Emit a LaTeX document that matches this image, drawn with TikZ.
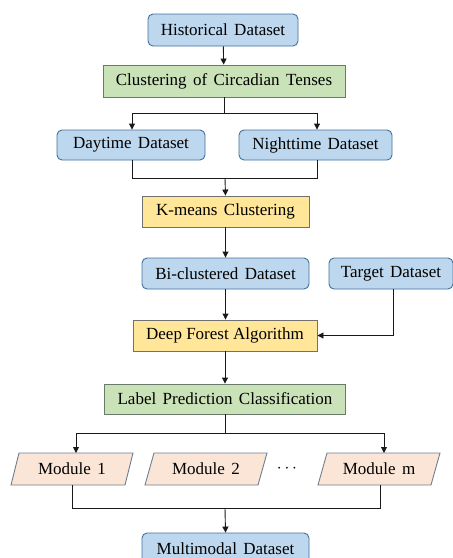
\documentclass[tikz,border=0pt]{standalone}
\usepackage{fontspec}
\setmainfont[WordSpace=1.5]{Liberation Serif}
\usetikzlibrary{arrows.meta,calc}
\definecolor{bluefill}{HTML}{BDD7EE}
\definecolor{blueline}{HTML}{41719C}
\definecolor{greenfill}{HTML}{C9E2B8}
\definecolor{greenline}{HTML}{6A7A6A}
\definecolor{yellowfill}{HTML}{FFE699}
\definecolor{yellowline}{HTML}{707070}
\definecolor{pinkfill}{HTML}{FBE5D6}
\definecolor{pinkline}{HTML}{6F7F8F}
\tikzset{
  basebox/.style={font=\fontsize{17}{19}\selectfont, inner sep=0pt, minimum height=31, text=black},
  bluebox/.style={basebox, draw=blueline, fill=bluefill, rounded corners=5pt, line width=0.9pt},
  greenbox/.style={basebox, draw=greenline, fill=greenfill, line width=0.9pt},
  yellowbox/.style={basebox, draw=yellowline, fill=yellowfill, line width=0.9pt},
  modshape/.style={draw=pinkline, fill=pinkfill, line width=0.9pt},
  modtext/.style={basebox, minimum height=32},
  conn/.style={draw=black!90, line width=0.9pt},
  arr/.style={conn, -{Triangle[length=6pt,width=6pt]}}
}
\begin{document}
\begin{tikzpicture}[x=1pt,y=-1pt]
\useasboundingbox (0,0) rectangle (453,558);
% nodes
\node[bluebox, minimum width=150, minimum height=32] (hist) at (223,30) {Historical Dataset};
\node[greenbox, minimum width=242, minimum height=32] (clust) at (224,81) {Clustering of Circadian Tenses};
\node[bluebox, minimum width=148, minimum height=30] (day) at (131,145) {Daytime Dataset};
\node[bluebox, minimum width=153, minimum height=30] (night) at (315.5,145) {Nighttime Dataset};
\node[yellowbox, minimum width=167, minimum height=31] (kmeans) at (225.5,211.5) {K-means Clustering};
\node[bluebox, minimum width=167, minimum height=31] (bi) at (225.5,273.5) {Bi-clustered Dataset};
\node[bluebox, minimum width=124, minimum height=31] (target) at (391,273.5) {Target Dataset};
\node[yellowbox, minimum width=184, minimum height=31, font=\fontsize{17}{19}\selectfont\fontspec{Liberation Serif}] (deep) at (225,335.5) {Deep Forest Algorithm};
\node[greenbox, minimum width=241, minimum height=30] (label) at (225,399) {Label Prediction Classification};
% modules
\draw[modshape] (11,485) -- (19,453) -- (133,453) -- (125,485) -- cycle;
\draw[modshape] (145,485) -- (154,453) -- (267,453) -- (258,485) -- cycle;
\draw[modshape] (318,485) -- (327,453) -- (440,453) -- (431,485) -- cycle;
\node[modtext] (m1) at (72,469) {Module 1};
\node[modtext] (m2) at (206,469) {Module 2};
\node[modtext] (mm) at (379,469) {Module m};
\node[font=\fontsize{17}{19}\selectfont] (dots) at (287,469) {$\cdots$};
\node[bluebox, minimum width=167, minimum height=31] (multi) at (225.5,548.5) {Multimodal Dataset};
% coordinates
\coordinate (s1) at (224,113);
\coordinate (j1) at (225,178);
\coordinate (s2) at (225,433);
\coordinate (j2) at (225,508);
\coordinate (m1in) at (76,453);
\coordinate (mmin) at (384,453);
\coordinate (m1out) at (72,485);
\coordinate (mmout) at (380,485);
% connectors
\draw[arr] (hist) -- (clust);
\draw[conn] (clust.south) -- (s1);
\draw[arr] (s1) -| ($(day.north)+(1,0)$);
\draw[arr] (s1) -| ($(night.north)+(1.5,0)$);
\draw[conn] ($(day.south)+(1,0)$) |- (j1);
\draw[conn] ($(night.south)+(1.5,0)$) |- (j1);
\draw[arr] (j1) -- (kmeans.north);
\draw[arr] (kmeans) -- (bi);
\draw[arr] (bi.south) -- (bi.south |- deep.north);
\draw[arr] ($(target.south)+(2,0)$) |- (deep.east);
\draw[arr] (deep) -- (label);
\draw[conn] (label.south) -- (s2);
\draw[arr] (s2) -| (m1in);
\draw[arr] (s2) -| (mmin);
\draw[conn] (m1out) |- (j2);
\draw[conn] (mmout) |- (j2);
\draw[arr] (j2) -- (multi.north);
\end{tikzpicture}
\end{document}
